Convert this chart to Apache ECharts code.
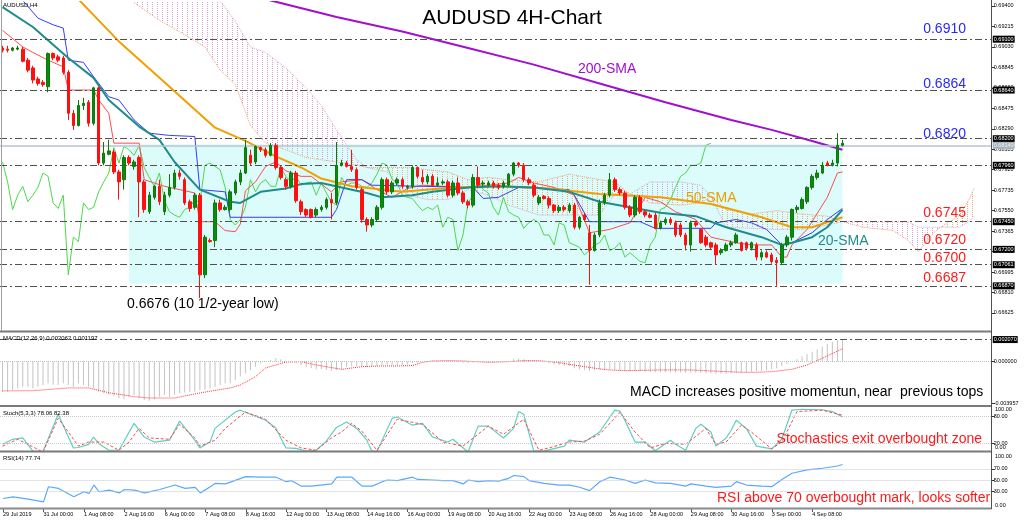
<!DOCTYPE html>
<html><head><meta charset="utf-8">
<script src="https://cdn.jsdelivr.net/npm/echarts/dist/echarts.min.js"></script>
<style>html,body{margin:0;padding:0;background:#fff}#c{width:1024px;height:522px}</style>
</head><body><div id="c"></div><script>
const N = 196;
const cats = Array.from({length: N}, (_, i) => String(i));
const tickLabels = ['29 Jul 2019','31 Jul 00:00','1 Aug 08:00','2 Aug 16:00','6 Aug 00:00','7 Aug 08:00','8 Aug 16:00','12 Aug 00:00','13 Aug 08:00','14 Aug 16:00','16 Aug 00:00','19 Aug 08:00','20 Aug 16:00','22 Aug 00:00','23 Aug 08:00','26 Aug 16:00','28 Aug 00:00','29 Aug 08:00','30 Aug 16:00','3 Sep 00:00','4 Sep 08:00'];
const priceTicks = [0.69400,0.69215,0.69030,0.68845,0.68660,0.68475,0.68290,0.68105,0.67920,0.67735,0.67550,0.67365,0.67180,0.66995,0.66810,0.66625];
const levelValues = [0.6910,0.6864,0.6820,0.6796,0.6745,0.6720,0.67061,0.6687];
const levelTexts = ['0.69100','0.68640','0.68200','0.67960','0.67450','0.67200','0.67061','0.66870'];
const lastPrice = 0.6814;
const zoneLow = 0.6689, zoneHigh = 0.6815, zoneFrom = 25, zoneTo = 166;

// [open, close, low, high]
const ohlc = [
[0.6902,0.6900,0.6898,0.6904],[0.6901,0.6900,0.6898,0.6904],[0.6900,0.6902,0.6899,0.6903],[0.6901,0.6902,0.6900,0.6904],[0.6901,0.6890,0.6889,0.6903],
[0.6891,0.6882,0.6880,0.6893],[0.6884,0.6873,0.6870,0.6886],[0.6874,0.6870,0.6868,0.6876],[0.6871,0.6869,0.6867,0.6873],[0.6867,0.6897,0.6862,0.6898],
[0.6897,0.6893,0.6891,0.6898],[0.6894,0.6891,0.6889,0.6896],[0.6893,0.6880,0.6878,0.6895],[0.6880,0.6843,0.6837,0.6882],[0.6843,0.6832,0.6828,0.6846],
[0.6832,0.6850,0.6831,0.6855],[0.6850,0.6852,0.6846,0.6857],[0.6853,0.6834,0.6831,0.6855],[0.6834,0.6866,0.6832,0.6867],[0.6866,0.6798,0.6796,0.6867],
[0.6798,0.6807,0.6796,0.6817],[0.6806,0.6809,0.6805,0.6819],[0.6808,0.6790,0.6788,0.6810],[0.6790,0.6781,0.6765,0.6792],[0.6783,0.6803,0.6774,0.6805],
[0.6803,0.6798,0.6796,0.6805],[0.6795,0.6799,0.6792,0.6801],[0.6803,0.6781,0.6749,0.6805],[0.6781,0.6756,0.6753,0.6783],[0.6754,0.6769,0.6752,0.6772],
[0.6767,0.6777,0.6765,0.6778],[0.6777,0.6763,0.6760,0.6783],[0.6754,0.6769,0.6751,0.6772],[0.6769,0.6776,0.6767,0.6788],[0.6776,0.6789,0.6774,0.6792],
[0.6789,0.6786,0.6783,0.6792],[0.6783,0.6762,0.6760,0.6785],[0.6763,0.6757,0.6754,0.6765],[0.6758,0.6769,0.6756,0.6771],[0.6769,0.6697,0.6676,0.6771],
[0.6697,0.6731,0.6694,0.6733],[0.6728,0.6727,0.6726,0.6730],[0.6728,0.6762,0.6722,0.6765],[0.6762,0.6756,0.6754,0.6765],[0.6756,0.6758,0.6755,0.6760],
[0.6756,0.6772,0.6754,0.6774],[0.6771,0.6781,0.6769,0.6783],[0.6781,0.6789,0.6778,0.6792],[0.6789,0.6812,0.6788,0.6819],[0.6805,0.6798,0.6796,0.6810],
[0.6799,0.6813,0.6797,0.6814],[0.6812,0.6810,0.6808,0.6813],[0.6810,0.6805,0.6803,0.6812],[0.6805,0.6814,0.6804,0.6816],[0.6814,0.6794,0.6792,0.6816],
[0.6794,0.6785,0.6783,0.6796],[0.6783,0.6777,0.6774,0.6785],[0.6777,0.6789,0.6775,0.6791],[0.6789,0.6764,0.6762,0.6791],[0.6763,0.6754,0.6751,0.6765],
[0.6756,0.6751,0.6749,0.6757],[0.6756,0.6749,0.6748,0.6757],[0.6751,0.6756,0.6749,0.6758],[0.6756,0.6758,0.6754,0.6760],[0.6758,0.6765,0.6756,0.6767],
[0.6765,0.6762,0.6747,0.6771],[0.6762,0.6796,0.6760,0.6817],[0.6796,0.6798,0.6795,0.6801],[0.6798,0.6795,0.6794,0.6800],[0.6795,0.6792,0.6790,0.6810],
[0.6792,0.6776,0.6774,0.6794],[0.6774,0.6747,0.6744,0.6776],[0.6747,0.6742,0.6736,0.6749],[0.6742,0.6747,0.6740,0.6749],[0.6747,0.6758,0.6745,0.6760],
[0.6758,0.6783,0.6756,0.6785],[0.6783,0.6772,0.6770,0.6785],[0.6772,0.6780,0.6770,0.6782],[0.6780,0.6783,0.6778,0.6785],[0.6783,0.6777,0.6775,0.6785],
[0.6776,0.6777,0.6774,0.6778],[0.6777,0.6794,0.6775,0.6796],[0.6794,0.6786,0.6784,0.6795],[0.6785,0.6781,0.6779,0.6792],[0.6781,0.6786,0.6779,0.6788],
[0.6786,0.6778,0.6777,0.6788],[0.6778,0.6780,0.6777,0.6785],[0.6780,0.6781,0.6778,0.6783],[0.6781,0.6769,0.6767,0.6783],[0.6769,0.6780,0.6767,0.6782],
[0.6780,0.6771,0.6769,0.6785],[0.6771,0.6763,0.6761,0.6773],[0.6763,0.6760,0.6757,0.6765],[0.6760,0.6785,0.6758,0.6788],[0.6785,0.6778,0.6776,0.6795],
[0.6779,0.6780,0.6777,0.6782],[0.6778,0.6780,0.6777,0.6782],[0.6780,0.6777,0.6775,0.6782],[0.6778,0.6776,0.6774,0.6780],[0.6777,0.6780,0.6775,0.6782],
[0.6778,0.6788,0.6777,0.6789],[0.6788,0.6798,0.6786,0.6799],[0.6798,0.6796,0.6794,0.6799],[0.6796,0.6783,0.6781,0.6798],[0.6783,0.6780,0.6778,0.6785],
[0.6778,0.6769,0.6767,0.6780],[0.6762,0.6767,0.6760,0.6769],[0.6768,0.6766,0.6765,0.6769],[0.6766,0.6760,0.6757,0.6768],[0.6760,0.6755,0.6753,0.6761],
[0.6755,0.6758,0.6753,0.6760],[0.6758,0.6756,0.6754,0.6760],[0.6755,0.6760,0.6753,0.6762],[0.6760,0.6740,0.6738,0.6762],[0.6740,0.6749,0.6738,0.6750],
[0.6751,0.6747,0.6745,0.6753],[0.6735,0.6719,0.6688,0.6742],[0.6719,0.6733,0.6718,0.6735],[0.6733,0.6762,0.6731,0.6765],[0.6762,0.6769,0.6760,0.6771],
[0.6769,0.6783,0.6767,0.6789],[0.6783,0.6774,0.6772,0.6785],[0.6774,0.6771,0.6769,0.6776],[0.6771,0.6758,0.6756,0.6773],[0.6758,0.6751,0.6749,0.6760],
[0.6751,0.6767,0.6749,0.6769],[0.6767,0.6754,0.6752,0.6769],[0.6754,0.6751,0.6749,0.6756],[0.6751,0.6749,0.6748,0.6753],[0.6751,0.6739,0.6738,0.6753],
[0.6739,0.6744,0.6738,0.6746],[0.6744,0.6747,0.6742,0.6749],[0.6747,0.6744,0.6742,0.6749],[0.6744,0.6733,0.6731,0.6746],[0.6742,0.6733,0.6731,0.6744],
[0.6733,0.6724,0.6719,0.6735],[0.6724,0.6744,0.6718,0.6746],[0.6744,0.6742,0.6740,0.6746],[0.6738,0.6726,0.6725,0.6739],[0.6731,0.6724,0.6722,0.6733],
[0.6726,0.6722,0.6720,0.6727],[0.6724,0.6715,0.6706,0.6726],[0.6717,0.6719,0.6715,0.6721],[0.6719,0.6724,0.6718,0.6726],[0.6724,0.6726,0.6722,0.6728],
[0.6726,0.6733,0.6725,0.6735],[0.6726,0.6719,0.6718,0.6727],[0.6726,0.6721,0.6719,0.6727],[0.6721,0.6726,0.6719,0.6727],[0.6724,0.6713,0.6710,0.6726],
[0.6713,0.6717,0.6710,0.6719],[0.6717,0.6713,0.6712,0.6719],[0.6715,0.6709,0.6707,0.6717],[0.6710,0.6708,0.6687,0.6713],[0.6708,0.6724,0.6706,0.6726],
[0.6724,0.6731,0.6722,0.6733],[0.6731,0.6756,0.6728,0.6757],[0.6756,0.6758,0.6753,0.6760],[0.6757,0.6765,0.6756,0.6767],[0.6763,0.6776,0.6761,0.6777],
[0.6776,0.6786,0.6774,0.6788],[0.6785,0.6789,0.6783,0.6792],[0.6789,0.6796,0.6788,0.6799],[0.6798,0.6796,0.6795,0.6800],[0.6796,0.6798,0.6795,0.6801],
[0.6798,0.6814,0.6795,0.6825],[0.6814,0.6816,0.6813,0.6819]
];

const sma200 = [[45,0.6955],[53,0.6945],[66,0.6930],[79,0.6917],[92,0.6902],[105,0.6887],[118,0.6870],[131,0.6853],[144,0.6837],[152,0.6828],[160,0.6818],[166,0.6810]];
const sma50 = [[10,0.6955],[15,0.6946],[23,0.6908],[33,0.6867],[42,0.6830],[48,0.6818],[54,0.6804],[59,0.6794],[63,0.6784],[69,0.6777],[79,0.6772],[89,0.6776],[98,0.6777],[108,0.6775],[118,0.6770],[130,0.6767],[140,0.6761],[150,0.6749],[156,0.6740],[160,0.6740],[166,0.6749]];
const sma20 = [[0,0.6939],[6,0.6921],[13,0.6893],[18,0.6875],[21,0.6855],[27,0.6831],[31,0.6819],[34,0.6799],[39,0.6774],[45,0.6763],[47,0.6762],[51,0.6772],[56,0.6775],[59,0.6779],[63,0.6780],[67,0.6776],[72,0.6771],[75,0.6767],[81,0.6769],[85,0.6772],[92,0.6776],[98,0.6777],[105,0.6776],[112,0.6772],[118,0.6763],[124,0.6758],[130,0.6753],[137,0.6750],[143,0.6740],[150,0.6731],[154,0.6724],[156,0.6726],[160,0.6731],[163,0.6740],[166,0.6756]];
const tenkan = [[0,0.6918],[4,0.6903],[6,0.6898],[9,0.6891],[12,0.6885],[13,0.6864],[18,0.6864],[19,0.6855],[21,0.6843],[22,0.6816],[27,0.6816],[28,0.6783],[32,0.6777],[38,0.6771],[39,0.6745],[42,0.6745],[44,0.6737],[46,0.6736],[47,0.6743],[48,0.6773],[50,0.6781],[52,0.6795],[54,0.6799],[56,0.6791],[59,0.6786],[61,0.6786],[65,0.6772],[67,0.6781],[71,0.6783],[74,0.6774],[77,0.6767],[80,0.6775],[83,0.6778],[87,0.6777],[92,0.6776],[96,0.6778],[100,0.6780],[102,0.6785],[105,0.6780],[109,0.6776],[113,0.6769],[116,0.6735],[120,0.6738],[124,0.6744],[127,0.6767],[130,0.6763],[133,0.6754],[137,0.6747],[140,0.6731],[145,0.6726],[148,0.6724],[152,0.6724],[154,0.6713],[155,0.6713],[156,0.6724],[159,0.6738],[163,0.6767],[165,0.6789],[166,0.6790]];
const kijun = [[0,0.6960],[4,0.6945],[7,0.6929],[10,0.6923],[12,0.6920],[13,0.6891],[16,0.6889],[18,0.6876],[21,0.6858],[23,0.6855],[26,0.6837],[29,0.6825],[33,0.6823],[38,0.6822],[39,0.6774],[44,0.6772],[45,0.6749],[65,0.6749],[66,0.6756],[68,0.6783],[71,0.6783],[73,0.6778],[93,0.6776],[95,0.6766],[98,0.6767],[102,0.6776],[112,0.6774],[113,0.6769],[116,0.6745],[126,0.6745],[129,0.6739],[140,0.6739],[141,0.6744],[145,0.6747],[148,0.6744],[151,0.6738],[154,0.6724],[156,0.6726],[160,0.6735],[163,0.6747],[166,0.6757]];
const cloudIdx = [26,31,36,40,43,46,49,52,56,60,63,66,70,72,76,80,84,88,92,96,100,106,112,118,121,124,128,134,138,140,143,148,153,158,163,166,170,176,179,181,184,186,189,191,192];
const spanA = [0.6943,0.6927,0.6914,0.6903,0.6882,0.6869,0.6832,0.6816,0.6810,0.6803,0.6801,0.6799,0.6796,0.6794,0.6794,0.6794,0.6792,0.6790,0.6783,0.6785,0.6783,0.6781,0.6788,0.6783,0.6781,0.6770,0.6762,0.6760,0.6762,0.6768,0.6756,0.6752,0.6755,0.6752,0.6750,0.6745,0.6740,0.6737,0.6728,0.6718,0.6735,0.6742,0.6750,0.6765,0.6775];
const spanB = [0.6975,0.6964,0.6954,0.6948,0.6945,0.6926,0.6903,0.6898,0.6884,0.6866,0.6850,0.6828,0.6801,0.6794,0.6790,0.6769,0.6765,0.6765,0.6774,0.6769,0.6760,0.6751,0.6751,0.6751,0.6770,0.6770,0.6781,0.6781,0.6778,0.6768,0.6740,0.6739,0.6738,0.6738,0.6742,0.6745,0.6745,0.6745,0.6745,0.6740,0.6740,0.6740,0.6740,0.6745,0.6750];

const macdHist = [
-0.00285,-0.00285,-0.00269,-0.00253,-0.00238,-0.00238,-0.00253,-0.00238,-0.00222,-0.00206,
-0.00222,-0.00222,-0.00206,-0.00222,-0.00238,-0.00206,-0.00222,-0.00238,-0.00253,-0.00285,
-0.00300,-0.00316,-0.00326,-0.00348,-0.00357,-0.00332,-0.00316,-0.00348,-0.00363,-0.00370,
-0.00357,-0.00332,-0.00316,-0.00332,-0.00316,-0.00300,-0.00294,-0.00285,-0.00285,-0.00269,
-0.00263,-0.00253,-0.00238,-0.00222,-0.00206,-0.00206,-0.00175,-0.00143,-0.00112,-0.00080,
-0.00049,-0.00017,-0.00002,0.00014,0.00030,0.00020,0.00008,-0.00011,-0.00017,-0.00033,
-0.00049,-0.00064,-0.00074,-0.00074,-0.00080,-0.00087,-0.00080,-0.00074,-0.00052,-0.00046,
-0.00046,-0.00052,-0.00052,-0.00046,-0.00042,-0.00033,-0.00033,-0.00033,-0.00033,-0.00033,
-0.00027,-0.00017,-0.00011,-0.00002,0.00008,0.00008,0.00005,-0.00002,-0.00008,-0.00005,
-0.00008,-0.00011,-0.00017,-0.00011,-0.00005,-0.00005,-0.00005,-0.00005,-0.00005,-0.00002,
0.00005,0.00020,0.00027,0.00020,0.00014,0.00008,-0.00002,-0.00008,-0.00017,-0.00027,
-0.00033,-0.00042,-0.00046,-0.00064,-0.00074,-0.00080,-0.00087,-0.00080,-0.00074,-0.00080,
-0.00074,-0.00080,-0.00087,-0.00090,-0.00093,-0.00087,-0.00093,-0.00096,-0.00099,-0.00102,
-0.00102,-0.00102,-0.00102,-0.00105,-0.00105,-0.00109,-0.00105,-0.00105,-0.00109,-0.00112,
-0.00112,-0.00115,-0.00115,-0.00115,-0.00112,-0.00109,-0.00105,-0.00102,-0.00096,-0.00093,
-0.00087,-0.00080,-0.00074,-0.00064,-0.00042,-0.00024,-0.00002,0.00020,0.00046,0.00071,
0.00093,0.00115,0.00140,0.00165,0.00184,0.00203,0.00206];
const macdSignal = [[0,-0.00278],[6,-0.00276],[13,-0.00250],[17,-0.00250],[21,-0.00295],[26,-0.00332],[29,-0.00345],[34,-0.00345],[39,-0.00297],[45,-0.00250],[47,-0.00222],[50,-0.00143],[52,-0.00061],[56,-0.00005],[59,-0.00002],[62,-0.00033],[67,-0.00074],[71,-0.00049],[75,-0.00042],[78,-0.00042],[81,-0.00039],[83,-0.00008],[85,0.00005],[88,0.00008],[91,0.00005],[96,-0.00008],[100,-0.00002],[103,0.00008],[106,0.00008],[110,-0.00011],[112,-0.00027],[115,-0.00049],[118,-0.00070],[120,-0.00080],[123,-0.00087],[130,-0.00080],[136,-0.00080],[143,-0.00096],[146,-0.00102],[149,-0.00102],[152,-0.00096],[156,-0.00074],[159,-0.00033],[162,0.00030],[166,0.00120]];
const stochMain = [[0,18],[2,29],[4,32],[6,3],[8,2],[11,84],[14,10],[15,11],[17,18],[18,34],[19,20],[21,5],[23,5],[26,64],[28,34],[30,23],[33,27],[35,69],[38,27],[39,10],[41,23],[42,53],[46,89],[47,93],[49,84],[52,71],[54,54],[56,10],[58,9],[60,3],[62,5],[64,25],[66,55],[68,67],[70,53],[72,27],[73,3],[74,2],[77,75],[78,78],[81,60],[83,64],[85,34],[88,23],[89,29],[92,1],[94,58],[96,58],[99,32],[101,53],[102,90],[103,84],[105,3],[107,3],[111,14],[112,27],[115,23],[118,45],[121,93],[122,91],[123,71],[125,23],[127,23],[129,4],[132,27],[133,18],[135,5],[137,53],[138,62],[140,45],[141,14],[143,32],[144,49],[145,71],[147,53],[149,14],[152,8],[154,29],[156,93],[158,95],[162,94],[164,90],[166,78]];
const stochSignal = [[0,14],[3,29],[5,18],[8,1],[11,75],[13,45],[15,14],[17,23],[20,23],[23,5],[25,23],[27,53],[29,32],[33,29],[35,62],[38,32],[39,14],[42,27],[44,53],[48,89],[52,73],[56,27],[59,10],[62,5],[65,32],[67,45],[69,64],[71,47],[74,5],[78,73],[83,62],[87,23],[91,14],[96,58],[99,40],[103,73],[106,5],[108,10],[112,23],[115,25],[118,40],[122,88],[125,45],[128,10],[131,20],[135,18],[139,53],[141,18],[143,23],[146,60],[148,45],[152,8],[154,23],[157,90],[162,93],[166,82]];
const rsi = [[0,17],[2,20],[5,16],[8,11],[9,38],[11,35],[14,20],[16,29],[17,26],[18,41],[19,29],[21,32],[23,27],[24,33],[26,32],[28,27],[31,33],[34,41],[36,35],[38,37],[39,27],[41,38],[42,44],[44,43],[48,56],[51,55],[54,55],[56,47],[57,49],[59,39],[61,39],[65,43],[66,55],[69,55],[70,47],[71,39],[73,39],[75,47],[76,50],[78,49],[81,55],[82,51],[85,50],[87,49],[89,49],[91,43],[92,50],[94,47],[96,49],[98,48],[100,53],[101,58],[103,56],[104,49],[107,44],[110,41],[112,41],[114,37],[116,31],[118,47],[120,55],[123,50],[125,44],[127,50],[129,45],[132,44],[135,39],[136,43],[139,39],[141,37],[144,39],[145,47],[147,41],[150,39],[152,38],[154,51],[156,62],[159,68],[162,71],[165,75],[166,77.7]];

const FONT = '"Liberation Sans", Arial, sans-serif';
function makePattern(color) {
  const c = document.createElement('canvas'); c.width = 5; c.height = 2;
  const g = c.getContext('2d'); g.fillStyle = color; g.fillRect(2, 0, 1, 1);
  return {image: c, repeat: 'repeat'};
}
const thistlePat = makePattern('#d8a0d0');
const sandyPat = makePattern('#f2a878');

const GL = 0, GR = 32.24;
const grids = [
  {left: GL, right: GR, top: 2, height: 329},
  {left: GL, right: GR, top: 333, height: 72},
  {left: GL, right: GR, top: 407, height: 45.5},
  {left: GL, right: GR, top: 452, height: 56}
];
const xAxes = grids.map((g, k) => ({
  type: 'category', gridIndex: k, data: cats, boundaryGap: true, show: k === 3,
  axisLine: {show: false},
  axisTick: {show: k === 3, alignWithLabel: true, length: 4, interval: (i) => i % 8 === 0 && i <= 160, lineStyle: {color: '#555'}},
  axisLabel: {show: k === 3, interval: (i) => i % 8 === 0 && i <= 160, formatter: (v, i) => tickLabels[i / 8] || '', fontSize: 5.5, fontFamily: FONT, color: '#000', align: 'left', margin: 3},
  splitLine: {show: false}
}));
function yAx(k, min, max, vals, fmt) {
  return {type: 'value', gridIndex: k, position: 'right', min, max, scale: true,
    axisLine: {show: false}, splitLine: {show: false},
    axisTick: {show: true, length: 3, customValues: vals, lineStyle: {color: '#333'}},
    axisLabel: {customValues: vals, formatter: fmt, fontSize: 5.5, fontFamily: FONT, color: '#000', margin: 2}};
}
const yAxes = [
  yAx(0, 0.66462, 0.69436, priceTicks, v => v.toFixed(5)),
  yAx(1, -0.00411, 0.00269, [0, -0.003957], v => v.toFixed(6)),
  yAx(2, 0, 100, [80, 20], v => v.toFixed(2)),
  yAx(3, 0, 100, [70, 50, 30], v => v.toFixed(2))
];
function line(data, color, width, type, z, xi) {
  return {type: 'line', data, xAxisIndex: xi || 0, yAxisIndex: xi || 0, symbol: 'none', showSymbol: false, silent: true, z: z,
    lineStyle: {color, width, type: type || 'solid'}};
}
const dashDot = [7, 3, 2, 3];
const boxLabel = (txt) => ({show: true, position: 'end', formatter: txt, color: '#fff', backgroundColor: '#000', fontSize: 5.5, fontFamily: FONT, padding: [1, 1, 0, 1], distance: 1});

const levelMarks = levelValues.map((v, k) => ({yAxis: v, lineStyle: {color: '#505050', width: 1, type: dashDot}, label: boxLabel(levelTexts[k])}));
levelMarks.push({yAxis: lastPrice, lineStyle: {color: '#b8c4cc', width: 1.5, type: 'solid'}, label: Object.assign(boxLabel(lastPrice.toFixed(5)), {backgroundColor: '#a8b4bc', color: '#eef'})});

const spanALine = line(cloudIdx.map((x, k) => [x, spanA[k]]), '#f0a070', 1, 'dotted', 2);
spanALine.markArea = {silent: true, itemStyle: {color: '#dcfbfb'}, data: [[{xAxis: zoneFrom, yAxis: zoneLow}, {xAxis: zoneTo, yAxis: zoneHigh}]]};
spanALine.z = 1;

const tenkanLine = line(tenkan, '#ff4d4d', 1, 'solid', 4);
tenkanLine.markLine = {silent: true, symbol: 'none', precision: 8, data: levelMarks, animation: false};

const series = [
  spanALine,
  line(cloudIdx.map((x, k) => [x, spanB[k]]), '#d8a8d0', 1, 'dotted', 2),
  {type: 'custom', xAxisIndex: 0, yAxisIndex: 0, z: 2, silent: true, clip: true,
    data: cloudIdx.map((x, k) => [x, spanA[k], spanB[k]]), encode: {x: 0, y: [1, 2]},
    renderItem: (params, api) => {
      const k = params.dataIndex;
      if (k >= cloudIdx.length - 1) return {type: 'group', children: []};
      const a1 = api.coord([cloudIdx[k], spanA[k]]), a2 = api.coord([cloudIdx[k + 1], spanA[k + 1]]);
      const b2 = api.coord([cloudIdx[k + 1], spanB[k + 1]]), b1 = api.coord([cloudIdx[k], spanB[k]]);
      const bull = spanA[k] + spanA[k + 1] >= spanB[k] + spanB[k + 1];
      return {type: 'polygon', shape: {points: [a1, a2, b2, b1]}, style: {fill: bull ? sandyPat : thistlePat}};
    }},
  line(ohlc.slice(26).map((d, k) => [k, d[1]]), '#4cd94c', 1, 'solid', 3),
  tenkanLine,
  line(kijun, '#3a3aff', 1, 'solid', 4),
  line(sma200, '#a010d0', 2, 'solid', 4),
  line(sma50, '#f0a000', 2, 'solid', 4),
  line(sma20, '#1f8c8c', 2, 'solid', 4),
  {type: 'candlestick', xAxisIndex: 0, yAxisIndex: 0, z: 5, silent: true, data: ohlc, barWidth: 3,
    itemStyle: {color: '#0b8a0b', color0: '#ff1010', borderColor: '#0b7a0b', borderColor0: '#ff1010', borderWidth: 1}},
  {type: 'bar', xAxisIndex: 1, yAxisIndex: 1, data: macdHist, barWidth: 1, silent: true, itemStyle: {color: '#c4c4c4'},
    markLine: {silent: true, symbol: 'none', precision: 8, animation: false, data: [
      {yAxis: 0, lineStyle: {color: '#c0c0c0', type: 'dotted', width: 1}, label: {show: false}},
      {yAxis: 0.00207, lineStyle: {color: '#505050', type: dashDot, width: 1}, label: boxLabel('0.002070')}
    ]}},
  line(macdSignal, '#ff3030', 1, 'dotted', 4, 1),
  Object.assign(line(stochMain, '#5fcfc2', 1.2, 'solid', 4, 2), {markLine: {silent: true, symbol: 'none', precision: 8, animation: false, label: {show: false},
    lineStyle: {color: '#c8c8c8', type: 'dotted', width: 1}, data: [{yAxis: 80}, {yAxis: 20}]}}),
  line(stochSignal, '#ff4a4a', 1, [3, 2], 4, 2),
  Object.assign(line(rsi, '#5aa8ff', 1.2, 'solid', 4, 3), {markLine: {silent: true, symbol: 'none', precision: 8, animation: false, label: {show: false},
    lineStyle: {color: '#c8c8c8', type: 'dotted', width: 1}, data: [{yAxis: 70}, {yAxis: 50}, {yAxis: 30}]}})
];

function txt(x, y, text, size, color, align) {
  return {type: 'text', x, y, z: 100, silent: true, style: {text, font: size + 'px ' + FONT, fill: color, align: align || 'left', verticalAlign: 'middle'}};
}
function hl(y, x1, x2, color, w) { return {type: 'line', z: 90, silent: true, shape: {x1, y1: y, x2, y2: y}, style: {stroke: color, lineWidth: w}}; }
function vl(x, y1, y2, color, w) { return {type: 'line', z: 90, silent: true, shape: {x1: x, y1, x2: x, y2}, style: {stroke: color, lineWidth: w}}; }

const graphics = [
  hl(331.5, 0, 991.5, '#7a7a7a', 2), hl(406, 0, 991.5, '#7a7a7a', 2), hl(451.5, 0, 991.5, '#7a7a7a', 2), hl(508.5, 0, 991.5, '#8a8a8a', 2),
  vl(991.5, 0, 509, '#505050', 1), vl(1.5, 0, 331, '#a0a0a0', 1),
  txt(3, 5, 'AUDUSD,H4', 6, '#000'),
  txt(3, 338.5, 'MACD(12,26,9) 0.002062 0.001197', 6, '#000'),
  txt(3, 413, 'Stoch(5,3,3) 78.06 82.38', 6, '#000'),
  txt(3, 458, 'RSI(14) 77.74', 6, '#000'),
  txt(995, 409.5, '100.00', 5.5, '#000'), txt(995, 447.5, '0.00', 5.5, '#000'),
  txt(995, 456, '100.00', 5.5, '#000'), txt(995, 505, '0.00', 5.5, '#000'),
  txt(512, 18, 'AUDUSD 4H-Chart', 21, '#000', 'center'),
  txt(966, 29, '0.6910', 14, '#2a2af5', 'right'),
  txt(966, 84.5, '0.6864', 14, '#2a2af5', 'right'),
  txt(966, 134, '0.6820', 14, '#2a2af5', 'right'),
  txt(966, 213, '0.6745', 14, '#ff1a1a', 'right'),
  txt(966, 240, '0.6720', 14, '#ff1a1a', 'right'),
  txt(966, 258.5, '0.6700', 14, '#ff1a1a', 'right'),
  txt(966, 278, '0.6687', 14, '#ff1a1a', 'right'),
  txt(578, 69, '200-SMA', 14, '#a010d0'),
  txt(686, 198, '50-SMA', 14, '#e8a000'),
  txt(818, 241, '20-SMA', 14, '#1f8c8c'),
  txt(127, 304, '0.6676 (10 1/2-year low)', 14, '#000'),
  txt(630, 392, 'MACD increases positive momentun, near  previous tops', 14, '#000'),
  txt(982, 439, 'Stochastics exit overbought zone', 14, '#ff1a1a', 'right'),
  txt(717, 498, 'RSI above 70 overbought mark, looks softer', 14, '#ff1a1a')
];

const chart = echarts.init(document.getElementById('c'), null, {renderer: 'canvas'});
chart.setOption({
  animation: false, backgroundColor: '#fff',
  grid: grids, xAxis: xAxes, yAxis: yAxes, series, graphic: graphics
});
</script></body></html>
